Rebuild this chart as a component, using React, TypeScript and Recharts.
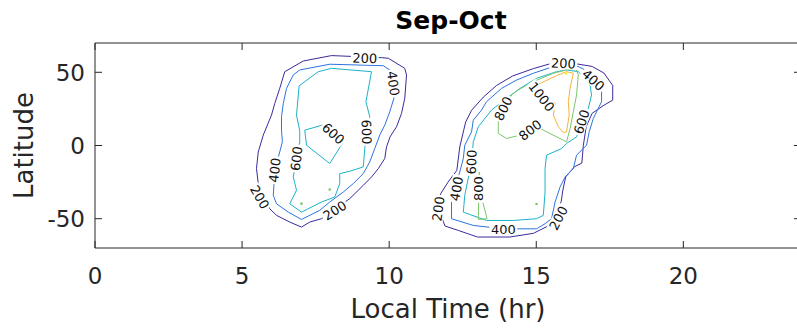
import React from "react";
import { Label, Scatter, ScatterChart, XAxis, YAxis } from "recharts";

type Pt = [number, number];

const FONT = "'DejaVu Sans', 'Liberation Sans', sans-serif";
const AX = "#262626";

const levels = [200, 400, 600, 800, 1000, 1200];
const levelColors = ["#3b2a9c", "#2c73e0", "#1cb3c8", "#7cc66b", "#f6b43a", "#f9f81a"];

const xTicks = [0, 5, 10, 15, 20];
const yTicks = [-50, 0, 50];
const xDomain = [0, 24];
const yDomain = [-70, 70];

// morning blob (local time ~5-11 hr)
const am200: Pt[] = [
    [6.45, 50.4], [7.08, 57.7], [8.04, 61.4], [9.74, 60.0], [9.97, 59.6], [10.53, 52.7], [10.59, 48.1],
    [10.53, 32.2], [10.42, 21.9], [10.25, 12.8], [10.03, 5.9], [9.91, -0.9], [9.85, -8.9], [9.63, -15.8],
    [9.4, -21.5], [9.12, -27.2], [8.66, -36.3], [7.7, -50.0], [7.3, -52.3], [7.02, -55.7], [6.62, -52.3],
    [6.17, -47.7], [5.94, -43.2], [5.55, -26.1], [5.49, -15.8], [5.55, -4.4], [5.72, 7.1], [6.0, 20.8],
    [6.11, 28.7], [6.28, 39.0], [6.45, 50.4],
];
const am400: Pt[] = [
    [6.74, 48.2], [6.96, 51.6], [7.98, 55.5], [9.8, 54.5], [10.02, 51.6], [10.16, 42.0], [10.16, 32.2],
    [10.02, 23.0], [9.85, 13.9], [9.68, 7.1], [9.51, -2.1], [9.34, -11.2], [9.12, -19.2], [8.78, -26.0],
    [8.44, -31.8], [7.98, -38.6], [7.64, -44.3], [7.02, -50.5], [6.57, -45.5], [6.17, -39.8], [6.06, -34.0],
    [6.08, -28.3], [6.11, -16.9], [6.28, -4.4], [6.37, 2.5], [6.34, 10.5], [6.34, 19.6], [6.4, 28.7],
    [6.51, 39.0], [6.74, 48.2],
];
const am600: Pt[] = [
    [6.94, 40.8], [7.59, 50.4], [8.04, 52.7], [9.4, 50.4], [9.21, 29.9], [9.34, 19.6], [9.23, 9.3],
    [9.17, -2.1], [9.12, -14.6], [8.66, -17.6], [8.32, -19.2], [8.32, -26.0], [8.15, -35.2], [7.7, -38.6],
    [7.02, -45.5], [6.62, -39.8], [6.85, -30.6], [6.74, -21.5], [6.85, -8.9], [6.96, 2.5], [6.96, 10.0],
    [6.85, 20.8], [6.94, 40.8],
];
const am600Inner: Pt[] = [
    [7.13, 10.5], [7.73, 13.9], [8.44, 2.5], [7.98, -12.3], [7.19, 0.2], [7.13, 10.5],
];

// afternoon blob (local time ~11-18 hr)
const pm200: Pt[] = [
    [14.2, 47.5], [14.9, 52.5], [15.5, 56.0], [16.3, 56.0], [16.9, 54.0], [17.3, 49.5], [17.6, 41.0],
    [17.6, 31.0], [17.3, 27.5], [16.9, 22.0], [16.7, 13.0], [16.6, 0.0], [16.55, -12.0], [16.3, -14.5],
    [16.0, -21.5], [15.9, -31.0], [15.85, -38.0], [15.7, -47.0], [15.4, -55.0], [14.9, -60.0], [14.1, -62.5],
    [13.0, -62.5], [12.35, -58.0], [11.9, -55.0], [11.7, -45.0], [11.75, -33.0], [12.0, -25.0], [12.3, -17.0],
    [12.4, -1.0], [12.6, 16.0], [12.8, 24.0], [13.2, 33.0], [13.65, 41.0], [14.2, 47.5],
];
const pm400: Pt[] = [
    [12.12, -50.0], [12.86, -54.6], [13.88, -56.9], [15.01, -56.9], [15.3, -53.4], [15.52, -50.0],
    [15.64, -38.6], [15.81, -28.3], [15.98, -21.5], [16.26, -15.8], [16.37, -6.6], [16.71, 0.2], [16.8, 9.3],
    [16.94, 18.5], [17.22, 29.9], [17.22, 36.7], [17.05, 41.3], [16.66, 51.6], [16.43, 53.9], [15.92, 53.9],
    [15.47, 53.2], [14.9, 49.3], [14.33, 44.7], [13.82, 39.0], [13.31, 29.9], [13.14, 24.2], [12.86, 17.3],
    [12.8, 9.3], [12.57, 0.2], [12.52, -8.9], [12.4, -18.1], [12.12, -38.6], [12.12, -50.0],
];
const pm600: Pt[] = [
    [12.52, -45.5], [12.57, -34.0], [12.8, -11.2], [12.86, 2.5], [13.03, 12.8], [13.48, 24.2], [13.99, 32.2],
    [14.45, 39.0], [15.01, 45.9], [15.69, 50.4], [16.03, 51.6], [16.43, 50.4], [16.66, 45.9], [16.83, 41.3],
    [16.88, 34.5], [16.77, 25.3], [16.54, 16.2], [16.37, 5.9], [16.03, 1.4], [15.86, -2.1], [15.35, -6.6],
    [15.3, -15.8], [15.3, -31.8], [15.24, -47.7], [15.01, -50.0], [14.22, -51.2], [13.31, -51.2], [12.52, -45.5],
];
const pm800: Pt[] = [
    [13.71, 12.8], [13.71, 8.2], [13.99, 4.8], [14.45, 7.1], [14.79, 10.5], [15.13, 11.6], [15.92, 3.6],
    [16.03, 2.5], [16.15, 11.6], [16.26, 23.0], [16.37, 34.5], [16.43, 48.2], [16.37, 51.6], [16.15, 52.3],
    [15.58, 49.3], [14.9, 43.6], [14.39, 37.9], [14.16, 34.5], [13.88, 25.3], [13.71, 17.3], [13.71, 12.8],
];
const pm800Lower: Pt[] = [
    [13.06, -18.1], [13.03, -50.5], [13.33, -50.0], [13.18, -38.6], [13.14, -24.9], [13.06, -18.1],
];
const pm1000: Pt[] = [
    [16.03, 50.4], [16.26, 49.3], [16.15, 39.0], [16.09, 29.9], [16.12, 20.8], [16.03, 9.3], [15.92, 8.8],
    [15.75, 12.8], [15.58, 20.8], [15.64, 28.7], [15.18, 33.3], [14.84, 39.0], [15.13, 42.4], [15.69, 47.7],
    [16.03, 50.4],
];

const contours = [
    { level: 200, pts: am200 },
    { level: 400, pts: am400 },
    { level: 600, pts: am600 },
    { level: 600, pts: am600Inner },
    { level: 200, pts: pm200 },
    { level: 400, pts: pm400 },
    { level: 600, pts: pm600 },
    { level: 800, pts: pm800 },
    { level: 800, pts: pm800Lower },
    { level: 1000, pts: pm1000 },
];

// single-cell islands that show up as specks
const specks = [
    { x: 7.02, y: -39.7, level: 800 },
    { x: 7.98, y: -30.0, level: 800 },
    { x: 15.01, y: -39.9, level: 800 },
    { x: 16.01, y: 49.1, level: 1200 },
];

const clabels = [
    { x: 9.17, y: 59.6, text: "200", angle: 2 },
    { x: 10.14, y: 42.4, text: "400", angle: 82 },
    { x: 8.1, y: 8.2, text: "600", angle: 42 },
    { x: 9.23, y: 9.3, text: "600", angle: 88 },
    { x: 6.85, y: -8.9, text: "600", angle: -84 },
    { x: 6.11, y: -16.9, text: "400", angle: -84 },
    { x: 5.6, y: -35.2, text: "200", angle: 60 },
    { x: 8.15, y: -44.3, text: "200", angle: -32 },
    { x: 15.92, y: 56.1, text: "200", angle: 3 },
    { x: 16.94, y: 44.7, text: "400", angle: 42 },
    { x: 15.18, y: 33.3, text: "1000", angle: 52 },
    { x: 13.88, y: 25.3, text: "800", angle: -64 },
    { x: 14.79, y: 10.5, text: "800", angle: -38 },
    { x: 16.54, y: 16.2, text: "600", angle: -72 },
    { x: 12.8, y: -11.2, text: "600", angle: -88 },
    { x: 13.03, y: -29.5, text: "800", angle: -90 },
    { x: 12.29, y: -29.5, text: "400", angle: -80 },
    { x: 11.67, y: -43.2, text: "200", angle: -82 },
    { x: 13.88, y: -56.9, text: "400", angle: 0 },
    { x: 15.75, y: -49.5, text: "200", angle: -62 },
];

const colorOf = (level: number) => levelColors[levels.indexOf(level)];
const toRows = (pts: Pt[]) => pts.map(([x, y]) => ({ x, y }));

const noShape = () => <g />;

const SpeckShape = (p: any) => (
    <circle cx={p.cx} cy={p.cy} r={1.3} fill={colorOf((p.payload ?? p).level)} />
);

const LabelShape = (p: any) => {
    const d = p.payload ?? p;
    const w = d.text.length * 8.3 + 3;
    return (
        <g transform={`translate(${p.cx},${p.cy}) rotate(${d.angle})`}>
            <rect x={-w / 2} y={-6} width={w} height={12} fill="#fff" />
            <text x={0} y={0} dy="0.36em" textAnchor="middle" fontSize={13} fontFamily={FONT} fill="#111">
                {d.text}
            </text>
        </g>
    );
};

const BottomTick = ({ x, y, payload }: any) => (
    <g>
        <line x1={x} x2={x} y1={y} y2={y - 7} stroke={AX} />
        <text x={x} y={y + 36} textAnchor="middle" fontSize={23} fontFamily={FONT} fill={AX}>
            {payload.value}
        </text>
    </g>
);

const TopTick = ({ x, y }: any) => <line x1={x} x2={x} y1={y} y2={y + 7} stroke={AX} />;

const LeftTick = ({ x, y, payload }: any) => (
    <g>
        <line x1={x} x2={x + 7} y1={y} y2={y} stroke={AX} />
        <text x={x - 10} y={y} dy="0.36em" textAnchor="end" fontSize={23} fontFamily={FONT} fill={AX}>
            {payload.value}
        </text>
    </g>
);

const RightTick = ({ x, y }: any) => <line x1={x} x2={x - 7} y1={y} y2={y} stroke={AX} />;

const XTitle = ({ viewBox }: any) => (
    <text x={viewBox.x + viewBox.width / 2} y={viewBox.y + 70} textAnchor="middle" fontSize={26} fontFamily={FONT} fill={AX}>
        Local Time (hr)
    </text>
);

const YTitle = ({ viewBox }: any) => {
    const cx = viewBox.x + 33;
    const cy = viewBox.y + viewBox.height / 2;
    return (
        <text x={cx} y={cy} transform={`rotate(-90 ${cx} ${cy})`} textAnchor="middle" fontSize={26} fontFamily={FONT} fill={AX}>
            Latitude
        </text>
    );
};

const PlotTitle = ({ viewBox }: any) => (
    <text x={viewBox.x + viewBox.width / 2 + 3} y={29} textAnchor="middle" fontSize={25} fontWeight="bold" fontFamily={FONT} fill="#000">
        Sep-Oct
    </text>
);

export default function App() {
    return (
        <div style={{ position: "absolute", left: 0, top: 0, width: 797, height: 330, overflow: "hidden", background: "#fff" }}>
            <ScatterChart width={812} height={330} margin={{ top: 42, right: 10, bottom: 22, left: 0 }}>
                <XAxis
                    xAxisId={0}
                    type="number"
                    dataKey="x"
                    domain={xDomain}
                    ticks={xTicks}
                    interval={0}
                    height={60}
                    tickSize={0}
                    tickMargin={0}
                    tickLine={false}
                    axisLine={{ stroke: AX }}
                    tick={BottomTick}
                    label={<Label content={XTitle} />}
                />
                <XAxis
                    xAxisId="top"
                    orientation="top"
                    type="number"
                    dataKey="x"
                    domain={xDomain}
                    ticks={xTicks}
                    interval={0}
                    height={1}
                    tickSize={0}
                    tickMargin={0}
                    tickLine={false}
                    axisLine={{ stroke: AX }}
                    tick={TopTick}
                    label={<Label content={PlotTitle} />}
                />
                <YAxis
                    yAxisId={0}
                    type="number"
                    dataKey="y"
                    domain={yDomain}
                    ticks={yTicks}
                    interval={0}
                    width={95}
                    tickSize={0}
                    tickMargin={0}
                    tickLine={false}
                    axisLine={{ stroke: AX }}
                    tick={LeftTick}
                    label={<Label content={YTitle} />}
                />
                <YAxis
                    yAxisId="right"
                    orientation="right"
                    type="number"
                    dataKey="y"
                    domain={yDomain}
                    ticks={yTicks}
                    interval={0}
                    width={1}
                    tickSize={0}
                    tickMargin={0}
                    tickLine={false}
                    axisLine={{ stroke: AX }}
                    tick={RightTick}
                />

                {contours.map((c, i) => (
                    <Scatter
                        key={`c${i}`}
                        data={toRows(c.pts)}
                        fill={colorOf(c.level)}
                        line={{ stroke: colorOf(c.level), strokeWidth: 1 }}
                        lineType="joint"
                        shape={noShape}
                        isAnimationActive={false}
                        legendType="none"
                    />
                ))}
                <Scatter data={specks} shape={SpeckShape} isAnimationActive={false} legendType="none" />
                <Scatter data={clabels} shape={LabelShape} isAnimationActive={false} legendType="none" />
                {/* keeps the box axes on the same scale */}
                <Scatter xAxisId="top" yAxisId="right" data={toRows(am200)} shape={noShape} isAnimationActive={false} legendType="none" />
            </ScatterChart>
        </div>
    );
}
